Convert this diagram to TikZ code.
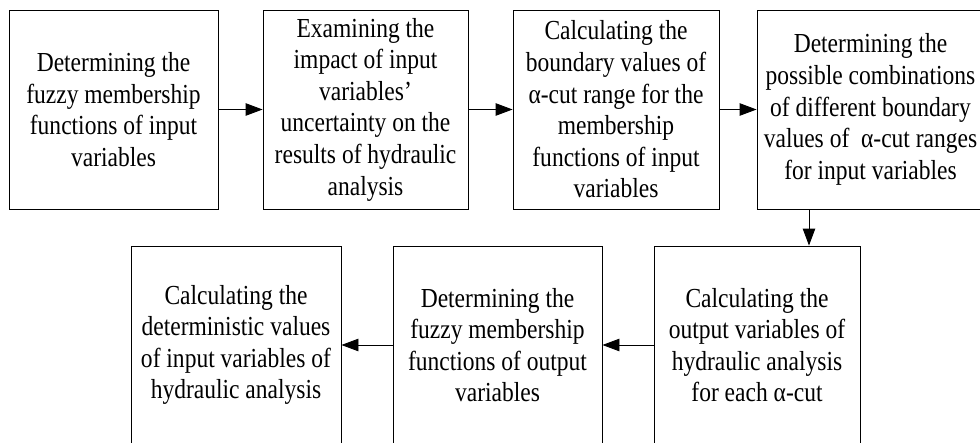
\documentclass[tikz,border=0pt]{standalone}
\usepackage{fontspec}
\setmainfont{Liberation Serif}[FakeStretch=0.855]
\usetikzlibrary{arrows.meta}
\tikzset{
  stepbox/.style={draw, line width=0.9pt, align=center, inner sep=0pt,
    font=\fontsize{27.5}{31.6}\selectfont},
  flow/.style={line width=0.9pt, -{Triangle[length=17pt,width=12.5pt]}}
}
\begin{document}
\begin{tikzpicture}[x=1pt,y=-1pt]
  \useasboundingbox (0,0) rectangle (980,442);
  \clip (0,0) rectangle (980,442);
  % top row
  \node[stepbox, minimum width=209pt, minimum height=199pt] (b1) at (113.5,109.5)
    {Determining the\\fuzzy membership\\functions of input\\variables};
  \node[stepbox, minimum width=205pt, minimum height=199pt] (b2) at (365.5,109.5)
    {Examining the\\impact of input\\variables’\\uncertainty on the\\results of hydraulic\\analysis};
  \node[stepbox, minimum width=206pt, minimum height=199pt] (b3) at (616,109.5)
    {Calculating the\\boundary values of\\α-cut range for the\\membership\\functions of input\\variables};
  \node[stepbox, minimum width=227pt, minimum height=199pt] (b4) at (870.5,109.5)
    {Determining the\\possible combinations\\of different boundary\\values of \ α-cut ranges\\for input variables};
  % bottom row
  \node[stepbox, minimum width=206pt, minimum height=198pt] (b5) at (757,345)
    {Calculating the\\output variables of\\hydraulic analysis\\for each α-cut};
  \node[stepbox, minimum width=209pt, minimum height=198pt] (b6) at (497.5,345)
    {Determining the\\fuzzy membership\\functions of output\\variables};
  \node[stepbox, minimum width=210pt, minimum height=198pt] (b7) at (236,345)
    {Calculating the\\deterministic values\\of input variables of\\hydraulic analysis};
  % connectors
  \coordinate (drop) at (809,0);
  \draw[flow] (b1.east) -- (b2.west);
  \draw[flow] (b2.east) -- (b3.west);
  \draw[flow] (b3.east) -- (b4.west);
  \draw[flow] (b4.south -| drop) -- (b5.north -| drop);
  \draw[flow] (b5.west) -- (b6.east);
  \draw[flow] (b6.west) -- (b7.east);
\end{tikzpicture}
\end{document}
